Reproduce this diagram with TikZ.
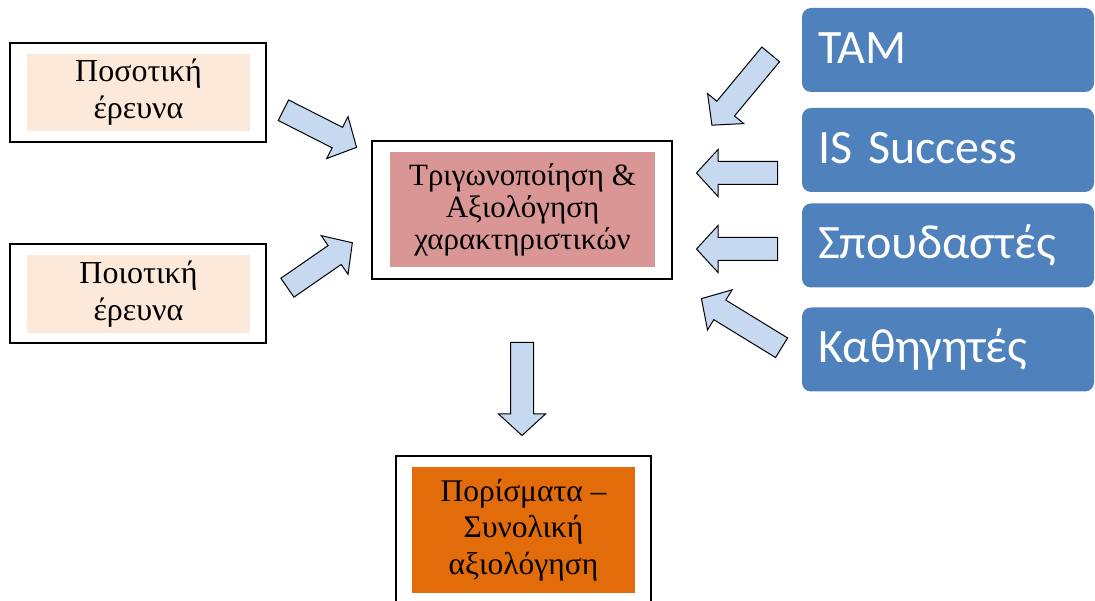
\documentclass[tikz,border=0pt]{standalone}
\usepackage{fontspec}
\setmainfont{Liberation Serif}
\newfontfamily\tabfont{Carlito}
\usetikzlibrary{shapes.arrows}
\definecolor{peach}{HTML}{FDE9D9}
\definecolor{rose}{HTML}{D99694}
\definecolor{burnt}{HTML}{E36C0A}
\definecolor{tabblue}{HTML}{4F81BD}
\definecolor{arrowblue}{HTML}{C6D9F1}

\begin{document}
\begin{tikzpicture}[x=1pt,y=-1pt,
  frame/.style={draw=black,line width=1.4pt,inner sep=0pt},
  fillbox/.style={inner sep=0pt,align=center},
  tab/.style={fill=tabblue,rounded corners=9pt,text=white,align=left,
    text width=260pt,inner xsep=16pt,inner ysep=0pt,minimum height=84pt,
    text height=37pt,text depth=10pt,font=\tabfont\fontsize{48}{52}\selectfont},
  blockarrow/.style={single arrow,draw=black,line width=1pt,fill=arrowblue,
    inner xsep=0pt,inner ysep=11pt,minimum width=46pt,
    single arrow head extend=12pt,single arrow tip angle=95,anchor=tail}]

\clip (0,0) rectangle (1095,601);

% left side
\node [frame,minimum width=256pt,minimum height=99pt] (quantframe) at (138,92.5) {};
\node [fillbox,fill=peach,minimum width=223pt,minimum height=77pt,
  font=\fontsize{32}{37}\selectfont] (quant) at (138.5,92.5) {Ποσοτική\\έρευνα};

\node [frame,minimum width=256pt,minimum height=99pt] (qualframe) at (138,293.5) {};
\node [fillbox,fill=peach,minimum width=223pt,minimum height=78pt,
  font=\fontsize{32}{37}\selectfont] (qual) at (138.5,294) {Ποιοτική\\έρευνα};

% middle
\node [frame,minimum width=300pt,minimum height=138pt] (triframe) at (522,210) {};
\node [fillbox,fill=rose,minimum width=265pt,minimum height=115pt,
  font=\fontsize{31}{32}\selectfont] (tri) at (522.5,209.5)
  {Τριγωνοποίηση \&\\Αξιολόγηση\\χαρακτηριστικών};

\node [frame,minimum width=255pt,minimum height=170pt] (resframe) at (523.5,541) {};
\node [fillbox,fill=burnt,minimum width=223pt,minimum height=126pt,
  font=\fontsize{31.5}{36.5}\selectfont] (res) at (523.5,530)
  {Πορίσματα --\\Συνολική\\αξιολόγηση};

% right side
\node [tab] (tam) at (948,50) {TAM};
\node [tab] (iss) at (948,150) {IS Success};
\node [tab] (stud) at (948,245.5) {Σπουδαστές};
\node [tab] (prof) at (948,349.5) {Καθηγητές};

% block arrows
\node [blockarrow,rotate=-26.9,minimum height=82pt] (quantarrow) at (283,110) {};
\node [blockarrow,rotate=34.7,minimum height=79pt] (qualarrow) at (287,288) {};
\node [blockarrow,rotate=-129.7,minimum height=92pt] (tamarrow) at (771,54) {};
\node [blockarrow,rotate=180,minimum height=81pt] (issarrow) at (778,173) {};
\node [blockarrow,rotate=180,minimum height=81pt] (studarrow) at (778,249) {};
\node [blockarrow,rotate=148.5,minimum height=94pt] (profarrow) at (782,348) {};
\node [blockarrow,rotate=-90,minimum height=93pt] (resarrow) at (522,342) {};

\end{tikzpicture}
\end{document}
